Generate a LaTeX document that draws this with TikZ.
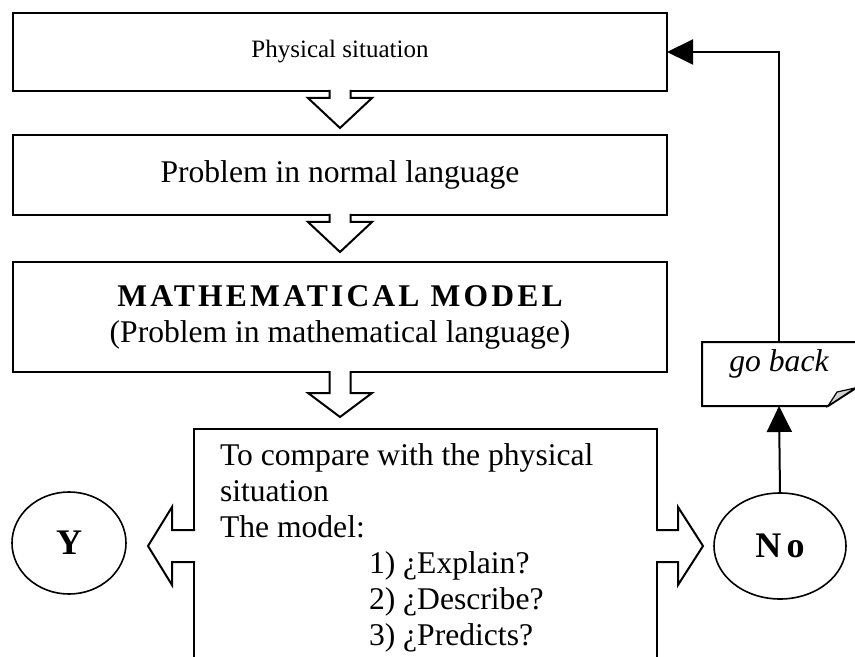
\documentclass[tikz,border=0pt]{standalone}
\usepackage{fontspec}
\setmainfont{Liberation Serif}
\usetikzlibrary{positioning,shapes.geometric,arrows.meta,calc}

\begin{document}
\begin{tikzpicture}[x=0.5pt, y=0.5pt, line width=1pt,
  font=\fontsize{15.8}{18}\selectfont,
  stage/.style={draw, outer sep=0pt, inner sep=0pt, minimum width=327pt, align=center},
  answer/.style={draw, ellipse, outer sep=0pt, inner sep=0pt, line width=0.8pt, font=\fontsize{18}{20}\selectfont\bfseries},
  tip/.style={-{Triangle[length=13pt, width=12.5pt]}},
  pics/hollow/.style args={#1/#2/#3/#4}{code={
    \fill[white] (-1.2,-#3) rectangle (1.2,#3);
    \draw (-1,#3) -- (#1,#3) -- (#1,#4) -- ({#1+#2},0) -- (#1,-#4) -- (#1,-#3) -- (-1,-#3);
  }}]
\useasboundingbox (0,0) rectangle (855,-657);

% stages
\node[stage, minimum height=39pt, font=\fontsize{12.5}{15}\selectfont] (situation) at (340,-52) {Physical situation};
\node[stage, minimum height=40pt] (problem) at (340,-175) {Problem in normal language};
\node[stage, minimum height=55pt] (model) at (340,-317) {{\bfseries\addfontfeatures{LetterSpace=10}MATHEMATICAL MODEL}\\(Problem in mathematical language)};
\node[draw, outer sep=0pt, inner sep=0pt, minimum width=231.5pt, minimum height=117pt] (compare) at (425.5,-546) {};
\node[anchor=north west, inner sep=0pt, align=left] (questions) at ($(compare.north west)+(25,-14)$) {To compare with the physical\\situation\\The model:\\\hspace*{74.5pt}1) ¿Explain?\\\hspace*{74.5pt}2) ¿Describe?\\\hspace*{74.5pt}3) ¿Predicts?};

% answers
\node[answer, minimum width=57pt, minimum height=51pt] (yes) at (69,-543) {Y};
\node[answer, minimum width=66pt, minimum height=53pt] (no) at (780,-546) {\addfontfeatures{LetterSpace=15}No};

% go back note
\node[minimum width=77pt, minimum height=32pt, outer sep=0pt] (note) at (779,-374) {};
\draw (note.south west) -- (note.north west) -- (note.north east) -- ($(note.south east)+(0,18)$) -- ($(note.south east)+(-28,0)$) -- cycle;
\filldraw[fill=gray!35, line width=0.6pt] ($(note.south east)+(-28,0)$) -- ($(note.south east)+(-19,14)$) -- ($(note.south east)+(-1,18)$) -- cycle;
\node[font=\fontsize{15.8}{18}\selectfont\itshape] (goback) at ($(note.center)+(0,10)$) {go back};

% hollow arrows
\pic[rotate=-90] at (situation.south) {hollow=7/30/10.5/32};
\pic[rotate=-90] at (problem.south) {hollow=7/30/10.5/32};
\pic[rotate=-90] at (model.south) {hollow=21/24/10.5/32};
\pic[rotate=180] at (compare.west) {hollow=22/24/16/39};
\pic at (compare.east) {hollow=21/25/16/39};

% feedback
\draw[tip] (no.north) -- (note.south);
\draw[tip] (note.north) |- (situation.east);
\end{tikzpicture}
\end{document}
